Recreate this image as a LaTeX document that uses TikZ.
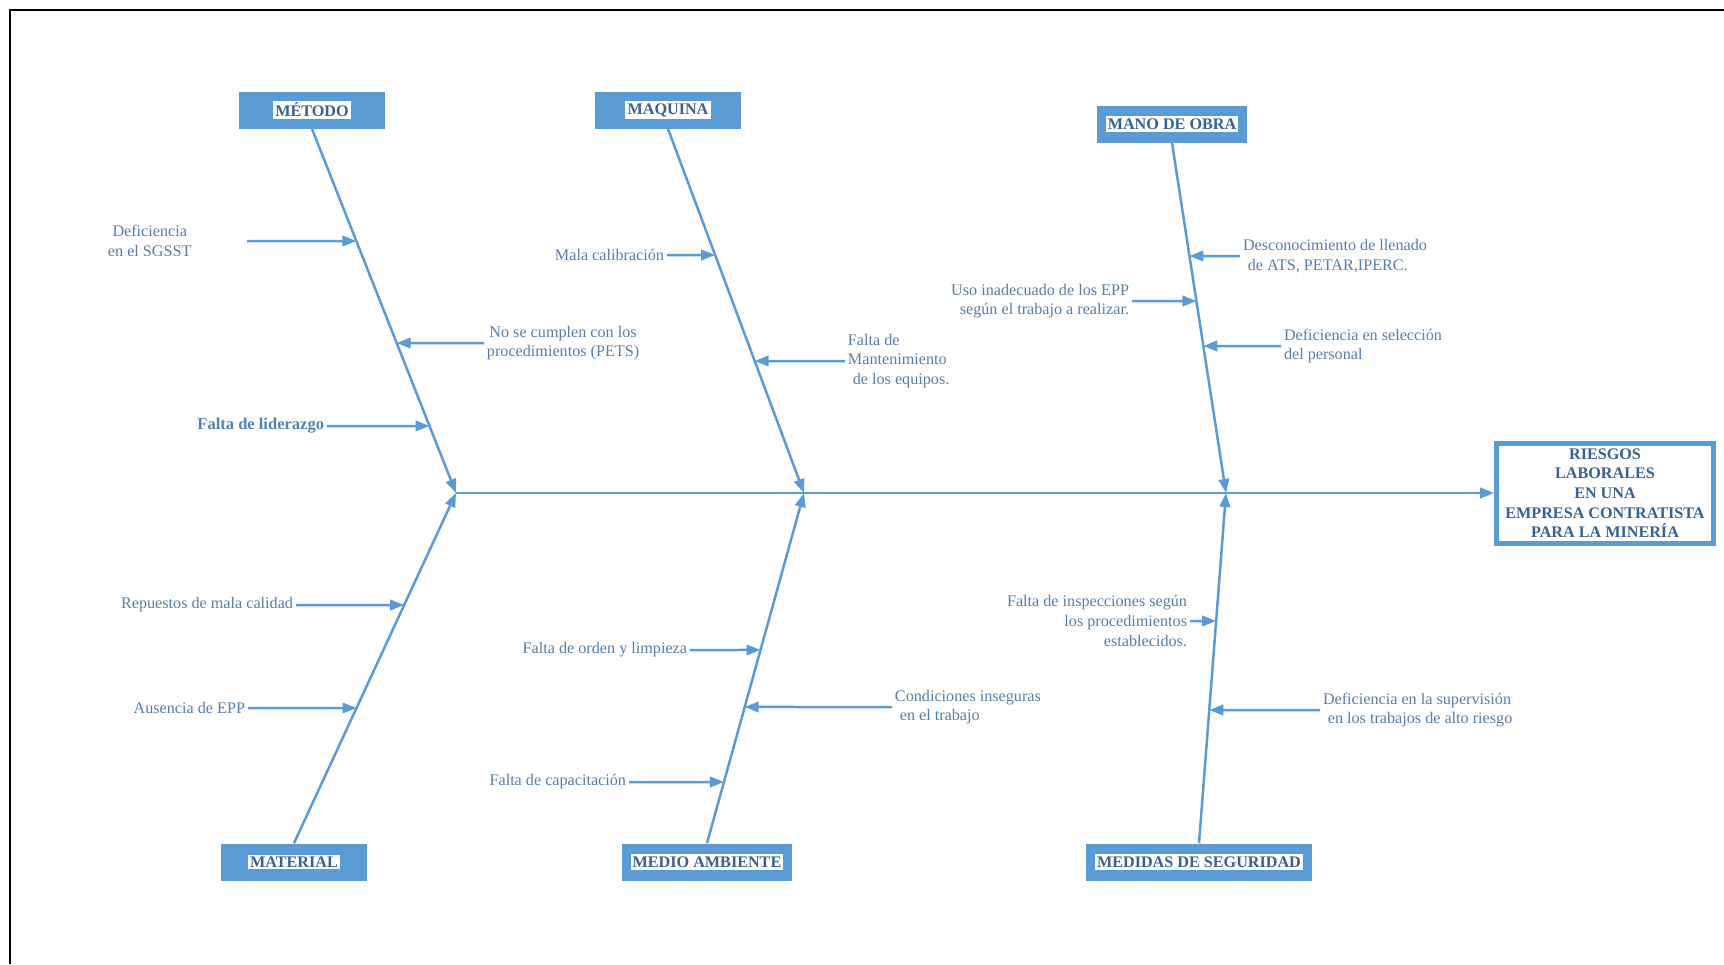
\documentclass[tikz,border=0pt]{standalone}
\usepackage{fontspec}
\setmainfont{Liberation Serif}
\usepackage{tikz}
\usetikzlibrary{arrows.meta, positioning}
\definecolor{fishblue}{RGB}{91,155,213}
\definecolor{cattext}{RGB}{55,98,146}
\definecolor{causetext}{RGB}{86,126,168}
\newcommand{\whitebg}[1]{{\setlength{\fboxsep}{1.2pt}\colorbox{white}{#1}}}

\begin{document}
\begin{tikzpicture}[x=0.02cm, y=-0.02cm, >={Triangle[length=2.8mm, width=2.1mm]},
    font=\fontsize{9.2}{11.2}\selectfont,
    bone/.style={draw=fishblue, fill=fishblue, line width=0.5mm, ->},
    catbox/.style={fill=fishblue, text=cattext, font=\fontsize{9.2}{11}\selectfont\bfseries,
      minimum width=2.92cm, minimum height=0.74cm, inner xsep=5pt},
    cause/.style={text=causetext, inner sep=1.5pt},
    effectbox/.style={draw=fishblue, line width=1mm, fill=white, text=cattext,
      font=\fontsize{9.2}{11.2}\selectfont\bfseries, align=center,
      minimum width=4.34cm, minimum height=2cm, inner sep=1pt}]
    \useasboundingbox (0,0) rectangle (1724,964);

    % Frame (only top and left edges show)
    \draw[black, line width=0.4mm] (10,964) -- (10,10) -- (1724,10);

    % Junctions on the spine
    \coordinate (jA) at (456,493);
    \coordinate (jB) at (804,493);
    \coordinate (jC) at (1226,493);

    % Categories
    \node[catbox] (metodo)   at (312,110)  {\whitebg{MÉTODO}};
    \node[catbox] (maquina)  at (668,110)  {\whitebg{MAQUINA}};
    \node[catbox] (manoobra) at (1172,124) {\whitebg{MANO DE OBRA}};
    \node[catbox] (material) at (294,862)  {\whitebg{MATERIAL}};
    \node[catbox] (medio)    at (707,862)  {\whitebg{MEDIO AMBIENTE}};
    \node[catbox] (medidas)  at (1199,862) {\whitebg{MEDIDAS DE SEGURIDAD}};

    % Effect
    \node[effectbox] (riesgos) at (1605,493)
      {RIESGOS\\LABORALES\\EN UNA\\EMPRESA CONTRATISTA\\PARA LA MINERÍA};

    % Bones and spine
    \foreach \c/\j in {metodo/jA, maquina/jB, manoobra/jC} {
      \draw[bone] (\c.south) -- (\j);
    }
    \foreach \c/\j in {material/jA, medio/jB, medidas/jC} {
      \draw[bone] (\c.north) -- (\j);
    }
    \draw[bone] (jA) -- (riesgos.west);

    % Causes: metodo
    \node[cause, anchor=west, align=center] (m1) at (105,241) {Deficiencia\\ en el SGSST};
    \coordinate (m1tail) at (247,241);
    \node[cause, anchor=west, align=center] (m2) at (484,343) {No se cumplen con los\\ procedimientos (PETS)};
    \node[cause, anchor=east, font=\fontsize{9.4}{11.2}\selectfont\bfseries, text=fishblue!85!black] (m3) at (327,426) {Falta de liderazgo};
    \draw[bone] (m1tail) -- (intersection of metodo.south--jA and m1.west--m1.east);
    \draw[bone] (m2.west) -- (intersection of metodo.south--jA and m2.west--m2.east);
    \draw[bone] (m3.east) -- (intersection of metodo.south--jA and m3.west--m3.east);

    % Causes: maquina
    \node[cause, anchor=east] (q1) at (667,255) {Mala calibración};
    \node[cause, anchor=west, align=left] (q2) at (845,361) {Falta de\\Mantenimiento\\\hspace*{.3em}de los equipos.};
    \draw[bone] (q1.east) -- (intersection of maquina.south--jB and q1.west--q1.east);
    \draw[bone] (q2.west) -- (intersection of maquina.south--jB and q2.west--q2.east);

    % Causes: mano de obra
    \node[cause, anchor=west, align=left] (o1) at (1240,256) {Desconocimiento de llenado\\\hspace*{.3em}de ATS, PETAR,IPERC.};
    \node[cause, anchor=east, align=right] (o2) at (1132,301) {Uso inadecuado de los EPP\\según el trabajo a realizar.};
    \node[cause, anchor=west, align=left] (o3) at (1281,346) {Deficiencia en selección\\del personal};
    \draw[bone] (o1.west) -- (intersection of manoobra.south--jC and o1.west--o1.east);
    \draw[bone] (o2.east) -- (intersection of manoobra.south--jC and o2.west--o2.east);
    \draw[bone] (o3.west) -- (intersection of manoobra.south--jC and o3.west--o3.east);

    % Causes: material
    \node[cause, anchor=east] (a1) at (296,605) {Repuestos de mala calidad};
    \node[cause, anchor=east] (a2) at (248,708) {Ausencia de EPP};
    \draw[bone] (a1.east) -- (intersection of material.north--jA and a1.west--a1.east);
    \draw[bone] (a2.east) -- (intersection of material.north--jA and a2.west--a2.east);

    % Causes: medio ambiente
    \node[cause, anchor=east] (e1) at (690,650) {Falta de orden y limpieza};
    \node[cause, anchor=west, align=left] (e2) at (892,707) {Condiciones inseguras\\\hspace*{.3em}en el trabajo};
    \node[cause, anchor=east] (e3) at (629,782) {Falta de capacitación};
    \draw[bone] (e1.east) -- (intersection of medio.north--jB and e1.west--e1.east);
    \draw[bone] (e2.west) -- (intersection of medio.north--jB and e2.west--e2.east);
    \draw[bone] (e3.east) -- (intersection of medio.north--jB and e3.west--e3.east);

    % Causes: medidas de seguridad
    \node[cause, anchor=east, align=right] (s1) at (1190,621) {Falta de inspecciones según\\los procedimientos\\establecidos.};
    \node[cause, anchor=west, align=left] (s2) at (1320,710) {Deficiencia en la supervisión\\\hspace*{.3em}en los trabajos de alto riesgo};
    \draw[bone] (s1.east) -- (intersection of medidas.north--jC and s1.west--s1.east);
    \draw[bone] (s2.west) -- (intersection of medidas.north--jC and s2.west--s2.east);
\end{tikzpicture}
\end{document}
